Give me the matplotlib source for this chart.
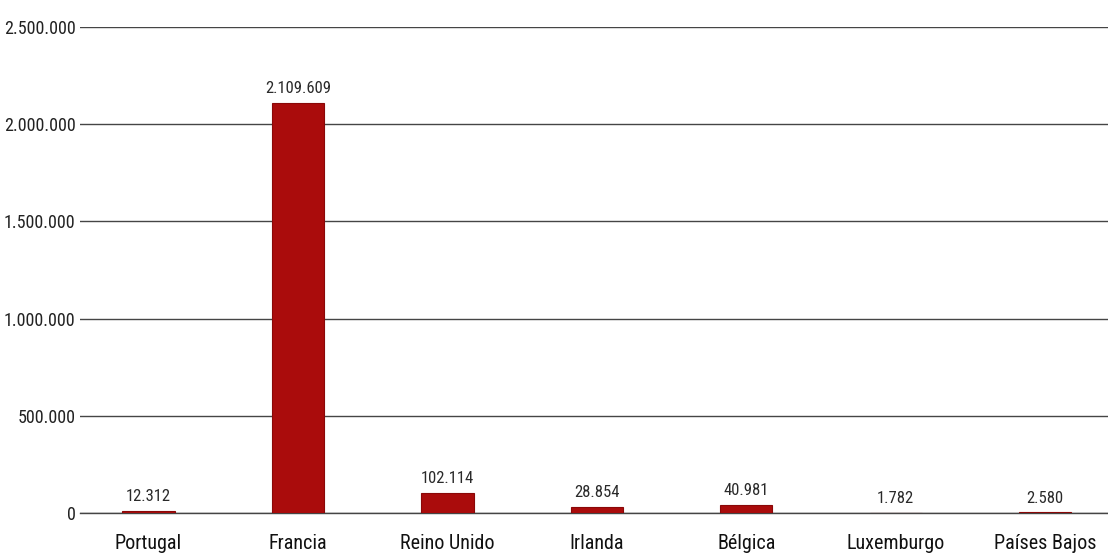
import matplotlib.pyplot as plt
import numpy as np

# datos por país
paises = ['Portugal', 'Francia', 'Reino Unido', 'Irlanda', 'Bélgica', 'Luxemburgo', 'Países Bajos']
valores = [12312, 2109609, 102114, 28854, 40981, 1782, 2580]
marcas_y = [0, 500000, 1000000, 1500000, 2000000, 2500000]


def miles(v):
    return '{:,}'.format(int(v)).replace(',', '.')


plt.rcParams['font.family'] = ['Roboto Condensed', 'Lato', 'DejaVu Sans']

fig = plt.figure(figsize=(11.08, 5.57), dpi=100)
ax = fig.add_axes([0.072, 0.079, 0.928, 0.8725])

x = np.arange(len(paises))
ax.bar(x, valores, width=0.35, color='#aa0c0c', edgecolor='#8a0808',
       linewidth=0.8, zorder=3)

for xi, v in zip(x, valores):
    ax.annotate(miles(v), (xi, v), xytext=(0, 5), textcoords='offset points',
                ha='center', va='bottom', fontsize=12, color='#2a2a2a')

ax.set_xlim(-0.46, 6.42)
ax.set_ylim(0, 2500000)
ax.set_yticks(marcas_y)
ax.set_yticklabels([miles(m) for m in marcas_y], fontsize=13, color='#222222')
ax.set_xticks(x)
ax.set_xticklabels(paises, fontsize=14.5, color='#111111')

ax.tick_params(axis='y', length=0, pad=3)
ax.tick_params(axis='x', length=0, pad=15)

ax.grid(axis='y', color='#454545', linewidth=1.0, zorder=1)
for lado in ['top', 'right', 'left']:
    ax.spines[lado].set_visible(False)
ax.spines['bottom'].set_color('#454545')
ax.spines['bottom'].set_linewidth(1.0)

fig.savefig('out.png', dpi=100)
